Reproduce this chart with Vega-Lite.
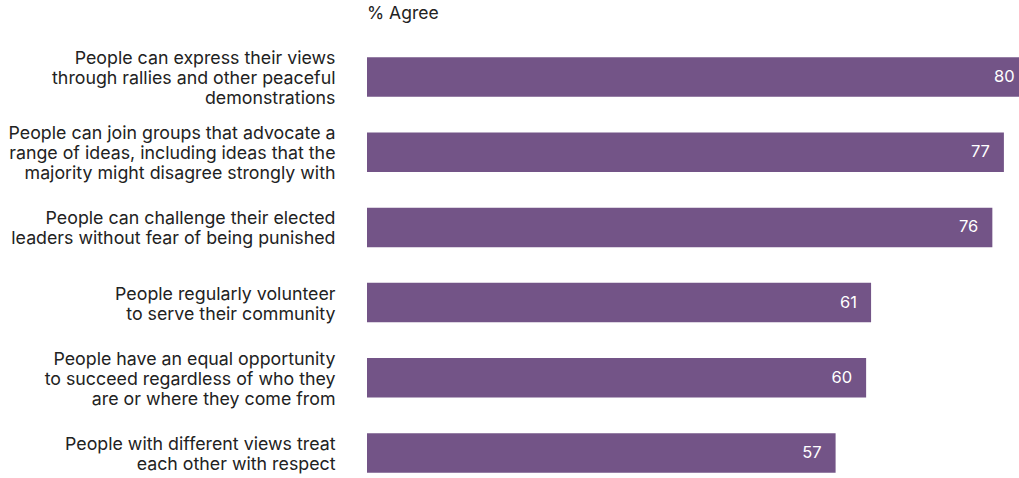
{
  "$schema": "https://vega.github.io/schema/vega-lite/v6.json",
  "autosize": "none",
  "width": 660,
  "height": 451,
  "padding": {"left": 367, "top": 39.5, "right": 0, "bottom": 0},
  "background": "white",
  "config": {"view": {"stroke": null}, "font": "Inter"},
  "title": {"text": "% Agree", "anchor": "start", "frame": "group", "fontSize": 17.5, "fontWeight": "normal", "color": "#222222", "offset": 17, "font": "Inter"},
  "data": {"values": [
    {"statement": "People can express their views|through rallies and other peaceful|demonstrations", "bar": 80.2, "pct": 80},
    {"statement": "People can join groups that advocate a|range of ideas, including ideas that the|majority might disagree strongly with", "bar": 77.2, "pct": 77},
    {"statement": "People can challenge their elected|leaders without fear of being punished", "bar": 75.8, "pct": 76},
    {"statement": "People regularly volunteer|to serve their community", "bar": 61.1, "pct": 61},
    {"statement": "People have an equal opportunity|to succeed regardless of who they|are or where they come from", "bar": 60.5, "pct": 60},
    {"statement": "People with different views treat|each other with respect", "bar": 56.8, "pct": 57}
  ]},
  "encoding": {
    "y": {"field": "statement", "type": "nominal", "sort": null,
      "scale": {"paddingInner": 0.475, "paddingOuter": 0.2375},
      "axis": {"title": null, "domain": false, "ticks": false, "labelPadding": 32, "labelFontSize": 17.8, "labelColor": "#222222", "labelFont": "Inter", "labelLineHeight": 20,
        "labelOffset": {"condition": {"test": "length(split(datum.value, '|')) == 3", "value": -18}, "value": -8},
        "labelExpr": "split(datum.label, '|')",
        "labelLimit": 400}},
    "x": {"field": "bar", "type": "quantitative", "scale": {"domain": [0, 80], "nice": false}, "axis": null}
  },
  "layer": [
    {"mark": {"type": "bar", "color": "#735487", "clip": false}},
    {"mark": {"type": "text", "align": "right", "dx": -14, "color": "white", "fontSize": 16.5, "font": "Inter"},
     "encoding": {"text": {"field": "pct", "type": "quantitative"}}}
  ]
}
